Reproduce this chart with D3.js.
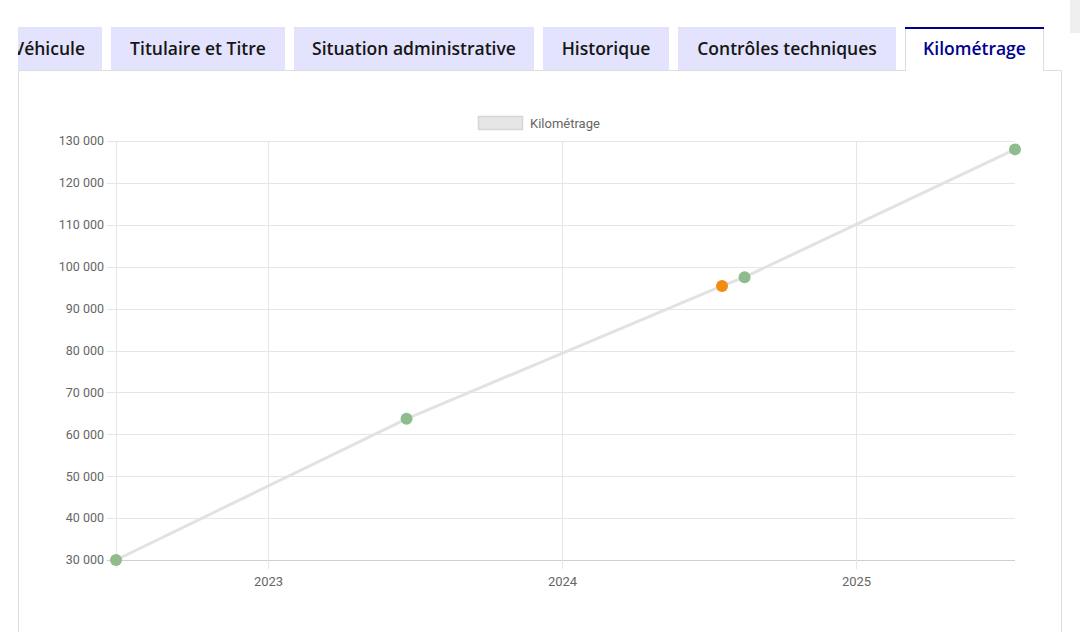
<!DOCTYPE html>
<html><head><meta charset="utf-8">
<script src="https://cdn.jsdelivr.net/npm/d3@7"></script>
<style>html,body{margin:0;padding:0;background:#fff;}svg{display:block;}</style>
</head><body>
<svg id="c" width="1080" height="632"></svg>
<script>
// Data
const tabs = ["Véhicule", "Titulaire et Titre", "Situation administrative", "Historique", "Contrôles techniques", "Kilométrage"];
const activeTab = "Kilométrage";
const seriesName = "Kilométrage";
const dates = ["2022-06-26", "2023-06-22", "2024-07-18", "2024-08-15", "2025-07-17"];
const km = [30000, 63700, 95400, 97500, 128000];
const pointStatus = ["ok", "ok", "warn", "ok", "ok"];
const yTicks = [30000, 40000, 50000, 60000, 70000, 80000, 90000, 100000, 110000, 120000, 130000];
const xTicks = ["2023-01-01", "2024-01-01", "2025-01-01"];

const svg = d3.select("#c");
const parse = d3.utcParse("%Y-%m-%d");

// top-right scrollbar stub
svg.append("rect").attr("x", 1070).attr("y", 0).attr("width", 10).attr("height", 33).attr("fill", "#efefef");

// Tabs
const tabX = [ [18,102], [111,285], [294,534], [543,669], [678,896], [905,1044] ];
const tabG = svg.append("g");
svg.append("defs").append("clipPath").attr("id","tabclip").append("rect").attr("x",18).attr("y",0).attr("width",1062).attr("height",80);
tabs.forEach((t, i) => {
  const [x0, x1] = tabX[i];
  const active = t === activeTab;
  const g = tabG.append("g").attr("clip-path", "url(#tabclip)");
  g.append("rect").attr("x", x0).attr("y", 27).attr("width", x1 - x0).attr("height", 43)
    .attr("fill", active ? "#ffffff" : "#e3e3fd");
  if (active) {
    g.append("line").attr("x1", x0).attr("x2", x1).attr("y1", 28).attr("y2", 28).attr("stroke", "#000091").attr("stroke-width", 2);
    g.append("line").attr("x1", x0+0.5).attr("x2", x0+0.5).attr("y1", 29).attr("y2", 71).attr("stroke", "#dddddd");
    g.append("line").attr("x1", x1-0.5).attr("x2", x1-0.5).attr("y1", 29).attr("y2", 71).attr("stroke", "#dddddd");
  }
  const txt = g.append("text")
    .attr("y", 55)
    .attr("font-family", "'Open Sans', 'Noto Sans', sans-serif")
    .attr("font-weight", 600)
    .attr("font-size", 17.5)
    .attr("fill", active ? "#000091" : "#161616")
    .text(t);
  if (i === 0) txt.attr("x", 85).attr("text-anchor", "end");
  else txt.attr("x", (x0 + x1) / 2).attr("text-anchor", "middle");
});

// Panel border
svg.append("path").attr("d", "M18.5,632 V70.5 H905 M1044,70.5 H1061.5 V632")
  .attr("fill", "none").attr("stroke", "#dddddd");

// Chart scales
const x = d3.scaleUtc().domain([parse(dates[0]), parse(dates[dates.length - 1])]).range([116, 1015]);
const y = d3.scaleLinear().domain([30000, 130000]).range([560, 141]);
const fmt = v => d3.format(",")(v).replace(/,/g, " ");

// Y grid + labels
const yG = svg.append("g");
yTicks.forEach(v => {
  yG.append("line").attr("x1", 107).attr("x2", 1015).attr("y1", Math.round(y(v)) + 0.5).attr("y2", Math.round(y(v)) + 0.5)
    .attr("stroke", v === 30000 ? "#cfcfcf" : "#e6e6e6").attr("stroke-width", 1);
  yG.append("text").attr("x", 104).attr("y", y(v)).attr("dy", "0.35em").attr("text-anchor", "end")
    .attr("font-family", "Roboto, sans-serif").attr("font-size", 12.5).attr("fill", "#666").text(fmt(v));
});
// X grid + labels
const xG = svg.append("g");
svg.append("line").attr("x1", 116.5).attr("x2", 116.5).attr("y1", 141).attr("y2", 568).attr("stroke", "#e6e6e6");
xTicks.forEach(d => {
  const xx = Math.round(x(parse(d))) + 0.5;
  xG.append("line").attr("x1", xx).attr("x2", xx).attr("y1", 141).attr("y2", 569).attr("stroke", "#e6e6e6");
  xG.append("text").attr("x", xx).attr("y", 581).attr("dy", "0.35em").attr("text-anchor", "middle")
    .attr("font-family", "Roboto, sans-serif").attr("font-size", 13).attr("fill", "#666").text(d3.utcFormat("%Y")(parse(d)));
});

// Line
const data = dates.map((d, i) => ({ date: parse(d), v: km[i], s: pointStatus[i] }));
svg.append("path").datum(data)
  .attr("d", d3.line().x(d => x(d.date)).y(d => y(d.v)))
  .attr("fill", "none").attr("stroke", "#e2e2e2").attr("stroke-width", 3);

// Points
const color = { ok: "#8fbc8f", warn: "#f28c0f" };
svg.append("g").selectAll("circle").data(data).join("circle")
  .attr("cx", d => x(d.date)).attr("cy", d => y(d.v)).attr("r", 6)
  .attr("fill", d => color[d.s]);

// Legend
svg.append("rect").attr("x", 478.5).attr("y", 116.5).attr("width", 44).attr("height", 13)
  .attr("fill", "#e6e6e6").attr("stroke", "#d6d6d6").attr("stroke-width", 1.5);
svg.append("text").attr("x", 530).attr("y", 123).attr("dy", "0.35em")
  .attr("font-family", "Roboto, sans-serif").attr("font-size", 13).attr("fill", "#666").text(seriesName);
</script>
</body></html>
